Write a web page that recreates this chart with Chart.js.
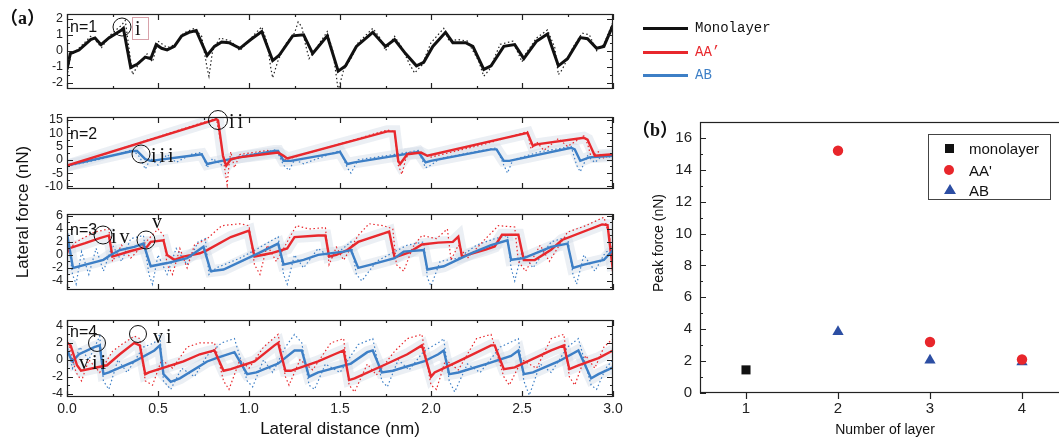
<!DOCTYPE html>
<html>
<head>
<meta charset="utf-8">
<script src="https://cdn.jsdelivr.net/npm/chart.js@4.4.1/dist/chart.umd.min.js"></script>
<style>
html, body { margin: 0; padding: 0; background: #fff; overflow: hidden; }
#wrap { position: relative; width: 1059px; height: 439px; overflow: hidden; font-family: "Liberation Sans", Arial, sans-serif; color: #111; }
canvas { position: absolute; }
.t { position: absolute; white-space: nowrap; line-height: 1; }
.rot { transform: translate(-50%, -50%) rotate(-90deg); }
.ctr { transform: translate(-50%, -50%); }
.roman { font-family: "Liberation Serif", serif; font-size: 20px; letter-spacing: 3px; }
.circ { position: absolute; border: 1.3px solid #111; border-radius: 50%; transform: translate(-50%, -50%); }
.lab { font-family: "Liberation Serif", "Noto Sans CJK SC", serif; font-weight: bold; font-size: 18px; }
.leg { font-family: "Liberation Mono", monospace; font-size: 14px; }
.nn { font-size: 16px; }
.lline { position: absolute; height: 2.5px; width: 45px; left: 643px; }
#legB { position: absolute; left: 928px; top: 134px; width: 121px; height: 64px; border: 1px solid #444; font-size: 15px; }
#legB .t { left: 40px; transform: translateY(-50%); }
</style>
</head>
<body>
<div id="wrap">
  <canvas id="p1" width="620" height="91" style="left:0;top:6px"></canvas>
  <canvas id="p2" width="620" height="88" style="left:0;top:109px"></canvas>
  <canvas id="p3" width="620" height="92" style="left:0;top:206px"></canvas>
  <canvas id="p4" width="640" height="127" style="left:0;top:312px"></canvas>
  <canvas id="pb" width="450" height="329" style="left:630px;top:110px"></canvas>

  <div class="t lab" style="left:0;top:9px">（a）</div>
  <div class="t lab" style="left:632px;top:121px">（b）</div>

  <div class="t rot" style="left:22px;top:212px;font-size:17px">Lateral force (nN)</div>
  <div class="t ctr" style="left:340px;top:428px;font-size:17px">Lateral distance (nm)</div>
  <div class="t rot" style="left:658px;top:243px;font-size:14px">Peak force (nN)</div>
  <div class="t ctr" style="left:885px;top:429px;font-size:14px">Number of layer</div>

  <!-- panel notes -->
  <div class="t nn" style="left:70px;top:19px">n=1</div>
  <div class="circ" style="left:122px;top:27px;width:17px;height:17px"></div>
  <div style="position:absolute;left:132px;top:17px;width:15px;height:21px;border:1px solid #d8a2aa"></div>
  <div class="t roman" style="left:135px;top:18px">i</div>

  <div class="t nn" style="left:70px;top:126px">n=2</div>
  <div class="circ" style="left:218px;top:120px;width:18px;height:18px"></div>
  <div class="t roman" style="left:229px;top:111px">ii</div>
  <div class="circ" style="left:141px;top:154px;width:17px;height:17px"></div>
  <div class="t roman" style="left:151px;top:145px">iii</div>

  <div class="t nn" style="left:70px;top:222px">n=3</div>
  <div class="circ" style="left:103px;top:235px;width:17px;height:17px"></div>
  <div class="t roman" style="left:111px;top:226px">iv</div>
  <div class="circ" style="left:146px;top:240px;width:17px;height:17px"></div>
  <div class="t roman" style="left:152px;top:211px">v</div>

  <div class="t nn" style="left:70px;top:324px">n=4</div>
  <div class="circ" style="left:97px;top:343px;width:16px;height:16px"></div>
  <div class="t roman" style="left:79px;top:352px">vii</div>
  <div class="circ" style="left:138px;top:334px;width:16px;height:16px"></div>
  <div class="t roman" style="left:153px;top:326px">vi</div>

  <!-- legend for (a) -->
  <div class="lline" style="top:27px;background:#111;height:3px"></div>
  <div class="lline" style="top:51px;background:#e8282d"></div>
  <div class="lline" style="top:74px;background:#3d7fc6"></div>
  <div class="t leg" style="left:695px;top:21px;color:#111">Monolayer</div>
  <div class="t leg" style="left:695px;top:45px;color:#e8282d">AA’</div>
  <div class="t leg" style="left:695px;top:68px;color:#3d7fc6">AB</div>

  <!-- legend for (b) -->
  <div id="legB">
    <div style="position:absolute;left:16px;top:9px;width:9px;height:9px;background:#111"></div>
    <div class="t" style="top:13px">monolayer</div>
    <div style="position:absolute;left:15px;top:30px;width:10px;height:10px;border-radius:50%;background:#e8262b"></div>
    <div class="t" style="top:35px">AA'</div>
    <div style="position:absolute;left:15px;top:49px;width:0;height:0;border-left:6px solid transparent;border-right:6px solid transparent;border-bottom:10px solid #2c4ea3"></div>
    <div class="t" style="top:55px">AB</div>
  </div>
</div>

<script>
'use strict'

// ---- panel (a) n=1, monolayer (nm, nN) ----
const mono1 = [[0,-1.17],[0.018,-0.18],[0.066,0.04],[0.13,0.7],[0.154,0.8],[0.187,0.38],[0.23,0.8],[0.30,1.3],[0.31,1.4],[0.35,-1.05],[0.385,-0.85],[0.43,-0.4],[0.46,-0.5],[0.49,0.38],[0.52,0.15],[0.55,0.05],[0.59,0.27],[0.63,0.93],[0.67,1.15],[0.71,1.26],[0.77,-0.3],[0.81,0.27],[0.85,0.55],[0.89,0.5],[0.95,0.15],[1.01,0.7],[1.07,1.2],[1.13,-0.62],[1.165,-0.3],[1.24,0.93],[1.30,1.0],[1.35,-0.18],[1.43,0.93],[1.49,-1.28],[1.53,-0.95],[1.59,0.27],[1.68,1.15],[1.75,0.27],[1.80,0.7],[1.86,-0.18],[1.92,-0.95],[1.96,-0.73],[2.01,0.27],[2.08,1.15],[2.12,0.5],[2.19,0.5],[2.23,0.27],[2.29,-1.17],[2.33,-0.95],[2.40,0.27],[2.46,0.38],[2.51,-0.5],[2.58,0.6],[2.64,1.04],[2.70,-0.95],[2.75,-0.5],[2.82,0.82],[2.86,0.75],[2.91,0.15],[2.95,0.27],[3.0,1.6]];
const mono1Raw = [[0,-1.6],[0.02,-0.3],[0.07,0.2],[0.13,0.9],[0.16,0.6],[0.19,0.2],[0.24,1.0],[0.3,1.6],[0.32,1.9],[0.34,0.2],[0.36,-1.5],[0.39,-0.9],[0.44,-0.2],[0.47,-0.7],[0.5,0.6],[0.55,0.2],[0.6,0.4],[0.64,1.1],[0.7,1.4],[0.74,0.9],[0.77,-1.1],[0.78,-1.6],[0.8,0.0],[0.84,0.8],[0.9,0.6],[0.95,0.0],[1.02,0.9],[1.07,1.5],[1.1,0.5],[1.12,-1.1],[1.13,-1.7],[1.16,-0.6],[1.2,0.4],[1.25,1.1],[1.27,1.8],[1.29,1.5],[1.31,0.4],[1.33,-0.5],[1.36,0.0],[1.43,1.2],[1.46,0.0],[1.48,-1.6],[1.49,-2.5],[1.52,-1.2],[1.56,-0.5],[1.6,0.5],[1.68,1.4],[1.72,0.8],[1.75,0.0],[1.8,0.9],[1.84,0.2],[1.88,-0.8],[1.91,-1.4],[1.95,-0.9],[2.0,0.5],[2.07,1.4],[2.1,0.6],[2.15,0.7],[2.2,0.6],[2.26,-0.6],[2.29,-1.6],[2.32,-1.2],[2.38,0.4],[2.45,0.6],[2.5,-0.7],[2.52,-0.2],[2.58,0.8],[2.64,1.3],[2.68,0.2],[2.70,-1.5],[2.72,-1.2],[2.78,0.2],[2.83,1.1],[2.87,1.0],[2.91,0.0],[2.95,0.4],[3.0,1.8]];

// ---- n=2 ----
const aa2 = [[0,-2.2],[0.81,15.0],[0.82,15.3],[0.83,14.8],[0.857,1.5],[0.875,-2.2],[0.90,0.2],[0.945,0.9],[1.16,2.7],[1.19,1.5],[1.21,0.5],[1.76,10.7],[1.80,10.7],[1.82,-0.4],[1.83,-1.6],[1.87,2.1],[1.945,2.7],[1.98,1.5],[2.53,10.1],[2.56,5.2],[2.58,5.8],[2.84,8.3],[2.86,7.6],[2.90,1.5],[3.0,2.1]];
const aa2Raw = [[0,-2.5],[0.4,6.5],[0.82,15.6],[0.85,5],[0.87,-5],[0.88,-9.5],[0.89,-2],[0.9,3],[0.92,-3],[0.95,2],[1.1,3.5],[1.16,2.4],[1.2,0],[1.5,6],[1.76,11.2],[1.8,10.5],[1.82,-2],[1.84,-5.5],[1.86,0],[1.88,3],[1.95,2.2],[2.0,1],[2.3,6],[2.53,10.6],[2.55,4],[2.58,6.8],[2.62,3.5],[2.7,8],[2.75,5],[2.84,9],[2.86,6],[2.88,1],[2.92,3],[2.95,0.5],[3.0,2.5]];
const ab2 = [[0,-2.2],[0.36,3.3],[0.385,3.3],[0.43,0.25],[0.46,-0.4],[0.68,1.5],[0.74,2.1],[0.77,-1.6],[0.81,-1.0],[0.945,0.9],[1.14,3.3],[1.16,3.3],[1.19,-0.4],[1.23,-0.4],[1.47,2.5],[1.50,3.0],[1.54,-1.6],[1.58,-1.0],[1.91,2.7],[1.93,3.0],[1.97,-1.0],[2.0,-0.4],[2.33,3.9],[2.36,3.9],[2.40,-0.4],[2.43,-0.4],[2.77,4.5],[2.79,3.9],[2.82,-0.4],[2.87,0.9],[3.0,1.5]];
const ab2Raw = [[0,-2.5],[0.2,0.5],[0.36,3.8],[0.4,1],[0.43,-3.5],[0.46,0.5],[0.5,-2],[0.55,2],[0.6,-1],[0.68,2],[0.74,2.8],[0.77,-3],[0.8,0.5],[0.85,-2],[0.95,1.5],[1.1,3],[1.15,3.8],[1.19,-2],[1.22,-4],[1.25,0],[1.3,-1.5],[1.4,1],[1.5,3.5],[1.54,-3],[1.56,-5],[1.6,0],[1.7,1],[1.8,2],[1.93,3.5],[1.97,-3],[2.0,-2],[2.05,0.5],[2.2,2.5],[2.36,4.5],[2.40,-2],[2.42,-5],[2.45,0],[2.6,3],[2.77,5],[2.8,-2],[2.82,-4.5],[2.86,1.5],[2.9,-1],[2.95,2],[3.0,0.5]];

// ---- n=3 ----
const aa3 = [[0,0.25],[0.01,1.0],[0.10,1.8],[0.18,2.6],[0.23,3.0],[0.25,-0.25],[0.35,0.6],[0.44,1.25],[0.46,2.0],[0.53,2.25],[0.55,0],[0.59,-0.75],[0.64,-0.25],[0.73,0.25],[0.77,0.75],[0.90,2.75],[1.0,3.75],[1.03,-0.25],[1.12,0.25],[1.21,1.0],[1.25,2.75],[1.38,3.0],[1.42,3.0],[1.44,-0.25],[1.48,0],[1.54,0.75],[1.60,2.0],[1.74,3.3],[1.77,3.6],[1.80,-0.4],[1.88,0.4],[1.95,1.6],[2.04,1.9],[2.12,2.0],[2.15,2.8],[2.17,-0.25],[2.3,0.8],[2.35,1.3],[2.39,3.1],[2.48,3.1],[2.51,-0.8],[2.57,-0.8],[2.66,0.8],[2.72,2.3],[2.94,4.7],[2.97,4.6],[3.0,-2.5]];
const aa3Raw = [[0,0.5],[0.05,2],[0.15,3.5],[0.23,4],[0.25,-1],[0.3,1.5],[0.35,-0.5],[0.44,2.2],[0.5,4],[0.53,3],[0.55,-1.5],[0.58,-3],[0.62,1],[0.66,-2],[0.7,1.5],[0.77,2.5],[0.85,4.5],[0.95,4.8],[1.0,4.5],[1.03,-1.5],[1.06,-3],[1.1,1.5],[1.15,-1],[1.21,2],[1.26,4.5],[1.33,4],[1.42,4.2],[1.44,-1.5],[1.48,1.2],[1.52,-0.8],[1.6,3],[1.66,4.8],[1.74,4.5],[1.79,4],[1.81,-1.5],[1.85,-2.5],[1.9,1.2],[1.95,3],[2.03,2.5],[2.09,4],[2.11,-0.8],[2.15,1.5],[2.2,-0.5],[2.3,2.5],[2.37,4.5],[2.46,4.3],[2.48,-1],[2.52,-2.5],[2.6,1.5],[2.65,-1],[2.75,3.5],[2.85,4.5],[2.95,5.8],[2.98,3],[3.0,-1.5]];
const ab3 = [[0,3.25],[0.033,-2.0],[0.066,-1.75],[0.20,-0.75],[0.24,0],[0.29,0.75],[0.37,1.25],[0.42,1.75],[0.46,-1.75],[0.55,-1.25],[0.66,-0.5],[0.75,1.25],[0.79,-2.5],[0.86,-2.25],[1.05,0.25],[1.16,1.75],[1.19,-1.5],[1.30,-0.75],[1.38,0],[1.52,0.5],[1.56,0.75],[1.60,-2.0],[1.67,-1.5],[1.80,-0.5],[1.85,0.5],[1.96,0.75],[1.98,-2.25],[2.07,-1.75],[2.22,0.25],[2.33,1.5],[2.42,2.25],[2.44,-0.75],[2.51,-0.5],[2.66,1.25],[2.75,1.75],[2.78,-2.0],[2.84,-1.5],[2.95,-0.75],[3.0,0.75]];
const ab3Raw = [[0,4],[0.03,-3],[0.05,-4.5],[0.08,0.5],[0.12,-3],[0.16,1],[0.2,-2.5],[0.25,1.5],[0.3,-1],[0.35,2.5],[0.42,3],[0.45,-3],[0.47,-4.5],[0.5,0],[0.55,-3],[0.6,1],[0.66,-1.5],[0.72,2],[0.76,2.5],[0.78,-3],[0.82,-2],[0.95,-0.5],[1.05,1],[1.16,2.8],[1.19,-3],[1.21,-4.5],[1.25,0],[1.3,-2],[1.38,1],[1.45,-0.5],[1.56,2],[1.59,-3],[1.62,-4],[1.7,-1],[1.8,0.5],[1.87,1.5],[1.96,2],[1.98,-3.5],[2.0,-4.8],[2.05,-1],[2.15,-0.5],[2.25,1.5],[2.35,2.5],[2.42,3],[2.44,-2],[2.46,-4],[2.5,0.5],[2.56,-2],[2.66,2],[2.75,2.8],[2.78,-3],[2.8,-4.5],[2.84,0],[2.9,-2.5],[2.95,0],[3.0,1.5]];

// ---- n=4 ----
const aa4 = [[0,2.0],[0.02,1.7],[0.055,-0.65],[0.077,-1.3],[0.22,-0.65],[0.29,0.65],[0.37,2.0],[0.40,1.7],[0.43,-1.7],[0.45,-1.5],[0.64,-0.2],[0.73,0.65],[0.81,1.1],[0.86,-1.3],[0.90,-1.1],[1.03,-0.2],[1.14,1.7],[1.16,2.0],[1.20,-1.3],[1.23,-1.3],[1.38,-0.2],[1.47,0.65],[1.52,1.1],[1.55,-2.4],[1.58,-2.2],[1.74,-0.65],[1.87,0.65],[1.95,1.7],[2.0,-2.0],[2.02,-1.5],[2.15,-0.2],[2.33,1.7],[2.35,1.7],[2.40,-1.1],[2.46,-0.9],[2.66,1.1],[2.73,1.7],[2.76,-1.1],[2.81,-0.65],[2.92,0.2],[3.0,1.1]];
const aa4Raw = [[0,2.5],[0.05,-1.5],[0.08,-2.5],[0.12,0],[0.18,-1.5],[0.25,1],[0.3,1.8],[0.37,2.8],[0.4,2.5],[0.43,-2.5],[0.47,-3],[0.52,0],[0.58,-1],[0.66,1.5],[0.73,2],[0.81,2],[0.86,-2.5],[0.89,-3.5],[0.95,0],[1.0,-1],[1.08,1.5],[1.16,3],[1.2,-2],[1.22,-3],[1.28,0],[1.35,-1.2],[1.45,2],[1.52,2.5],[1.55,-3],[1.58,-3.8],[1.65,-0.5],[1.7,-1.8],[1.8,1],[1.87,2.5],[1.95,3],[2.0,-3],[2.03,-3.5],[2.08,0],[2.15,-1.2],[2.25,2.5],[2.33,3],[2.4,-2],[2.43,-3],[2.5,0],[2.58,-1],[2.66,2.5],[2.73,3],[2.76,-2],[2.79,-3],[2.85,0.5],[2.9,-1],[2.95,1.5],[3.0,2.5]];
const ab4 = [[0,1.1],[0.03,-0.2],[0.066,0.65],[0.15,1.5],[0.18,1.7],[0.20,-1.7],[0.23,-1.5],[0.37,-0.2],[0.48,1.1],[0.51,1.7],[0.53,-1.7],[0.57,-2.6],[0.62,-2.2],[0.77,-0.2],[0.82,0.2],[0.92,0.9],[0.99,-1.7],[1.04,-1.5],[1.16,-0.45],[1.25,1.1],[1.29,1.1],[1.33,-2.0],[1.38,-1.5],[1.56,-0.45],[1.65,0.9],[1.68,1.1],[1.73,-1.5],[1.79,-1.3],[1.96,-0.2],[2.04,0.65],[2.07,1.1],[2.10,-1.7],[2.15,-1.5],[2.31,-0.45],[2.44,0.45],[2.48,1.1],[2.51,-1.7],[2.56,-1.5],[2.70,-0.2],[2.81,1.1],[2.88,-2.2],[2.92,-1.7],[3.0,-0.9]];
const ab4Raw = [[0,1.8],[0.03,-1],[0.07,1.5],[0.12,0],[0.18,2.8],[0.2,-2.5],[0.23,-3.5],[0.28,0],[0.33,-1.5],[0.42,1.5],[0.48,2],[0.51,3],[0.53,-2.5],[0.57,-3.5],[0.63,-1],[0.7,-2],[0.77,0.5],[0.85,2],[0.92,2.5],[0.99,-2.5],[1.02,-3.2],[1.08,0],[1.13,-1.5],[1.2,1.5],[1.25,3],[1.29,2],[1.33,-3],[1.36,-3.5],[1.42,-0.5],[1.5,-1.5],[1.6,1.8],[1.68,2.5],[1.73,-2.5],[1.76,-3.2],[1.82,0],[1.88,-1.2],[1.96,1],[2.04,2],[2.07,2.5],[2.1,-2.5],[2.13,-3.8],[2.2,-0.5],[2.27,-1.5],[2.38,1.5],[2.48,2.5],[2.51,-2.5],[2.54,-4.2],[2.6,-0.5],[2.66,-1.5],[2.75,1.5],[2.81,2.5],[2.88,-3],[2.91,-3.5],[2.96,-1],[3.0,0]];

// ---- panel (b) ----
const layers = [1, 2, 3, 4];
const peakMono = [1.45, null, null, null];
const peakAA = [null, 15.2, 3.2, 2.1];
const peakAB = [null, 3.85, 2.05, 1.95];

const RED = '#e8282d', BLUE = '#3d7fc6', BLACK = '#111';
const FONT = '"Liberation Sans", Arial, sans-serif';

// frame + inward tick marks, placed with the chart's own scales
const frameTicks = {
	id: 'frameTicks',
	afterDatasetsDraw(chart, args, o) {
		let ctx = chart.ctx, a = chart.chartArea;
		let x = chart.scales.x, y = chart.scales.y;
		ctx.save();
		ctx.strokeStyle = '#222';
		ctx.lineWidth = 1.2;
		ctx.strokeRect(a.left + 0.5, a.top + 0.5, a.right - a.left - 1, a.bottom - a.top - 1);
		ctx.beginPath();
		let each = (scale, step, major, fn) => {
			let start = Math.ceil(scale.min / step - 1e-9);
			for (let k = start; k * step <= scale.max + 1e-9; k++) {
				let v = k * step;
				let isMajor = Math.abs(v / major - Math.round(v / major)) < 1e-6;
				fn(Math.round(scale.getPixelForValue(v)) + 0.5, isMajor ? 6 : 3);
			}
		};
		if (o.yStep) {
			each(y, o.yStep, o.yMajor, (py, len) => {
				ctx.moveTo(a.left, py); ctx.lineTo(a.left + len, py);
				if (o.mirror) { ctx.moveTo(a.right, py); ctx.lineTo(a.right - len, py); }
			});
		}
		if (o.xStep) {
			each(x, o.xStep, o.xMajor, (px, len) => {
				if (o.xOut) {
					ctx.moveTo(px, a.bottom); ctx.lineTo(px, a.bottom + len);
				} else {
					ctx.moveTo(px, a.bottom); ctx.lineTo(px, a.bottom - len);
					if (o.mirror) { ctx.moveTo(px, a.top); ctx.lineTo(px, a.top + len); }
				}
			});
		}
		ctx.stroke();
		ctx.restore();
	}
};

// keep the plot box where layout.padding puts it, whatever the label sizes
let noPad = (s) => { s.paddingTop = 0; s.paddingBottom = 0; s.paddingLeft = 0; s.paddingRight = 0; };

let solid = (data, color, order, w) => ({
	data: data, borderColor: color, borderWidth: w || 2.4, pointRadius: 0, tension: 0, order: order
});
let dotted = (data, color, order) => ({
	data: data, borderColor: color, borderWidth: 1.2, borderDash: [1.5, 2.5], pointRadius: 0, tension: 0, order: order
});
let haze = (data, order) => ({
	data: data, borderColor: 'rgba(205,215,228,0.4)', borderWidth: 12, pointRadius: 0, tension: 0, order: order
});

let makePanel = (id, datasets, yMin, yMax, yStep, showX) => {
	return new Chart(document.getElementById(id), {
		type: 'line',
		data: { datasets: datasets },
		options: {
			responsive: false,
			animation: false,
			events: [],
			layout: { padding: { top: 8, bottom: showX ? 0 : 8, left: 0, right: showX ? 27 : 7 } },
			plugins: {
				legend: { display: false },
				tooltip: { enabled: false },
				frameTicks: { yStep: yStep / 2, yMajor: yStep, xStep: 0.25, xMajor: 0.5, mirror: true }
			},
			scales: {
				x: {
					type: 'linear', min: 0, max: 3,
					display: showX,
					grid: { display: false, drawTicks: false },
					border: { display: false },
					ticks: {
						stepSize: 0.25, autoSkip: false, maxRotation: 0, padding: 4,
						color: '#222', font: { family: FONT, size: 14 },
						callback: (v) => Math.abs(v * 2 - Math.round(v * 2)) < 1e-6 ? v.toFixed(1) : ''
					},
					afterFit: (s) => { s.height = showX ? 42 : 0; noPad(s); }
				},
				y: {
					min: yMin, max: yMax,
					grid: { display: false, drawTicks: false },
					border: { display: false },
					ticks: {
						stepSize: yStep, includeBounds: false, autoSkip: false, padding: 4,
						color: '#222', font: { family: FONT, size: 12.5 }
					},
					afterFit: (s) => { s.width = 67; noPad(s); }
				}
			}
		},
		plugins: [frameTicks]
	});
};

makePanel('p1', [solid(mono1, BLACK, 1, 3), dotted(mono1Raw, '#222', 2)], -2.4, 2.3, 1, false);
makePanel('p2', [solid(aa2, RED, 1), solid(ab2, BLUE, 2), dotted(aa2Raw, RED, 3), dotted(ab2Raw, BLUE, 4), haze(aa2, 5), haze(ab2, 6)], -11, 16.1, 5, false);
makePanel('p3', [solid(ab3, BLUE, 1), solid(aa3, RED, 2), dotted(aa3Raw, RED, 3), dotted(ab3Raw, BLUE, 4), haze(aa3, 5), haze(ab3, 6)], -5.4, 6.3, 2, false);
makePanel('p4', [solid(aa4, RED, 1), solid(ab4, BLUE, 2), dotted(aa4Raw, RED, 3), dotted(ab4Raw, BLUE, 4), haze(aa4, 5), haze(ab4, 6)], -4.4, 4.7, 2, true);

let pairs = (ys) => layers.map((l, i) => ({ x: l, y: ys[i] })).filter((p) => p.y !== null);

new Chart(document.getElementById('pb'), {
	type: 'scatter',
	data: {
		datasets: [
			{ label: 'monolayer', data: pairs(peakMono), pointStyle: 'rect', pointRadius: 6.4, backgroundColor: BLACK, borderColor: BLACK, borderWidth: 0 },
			{ label: "AA'", data: pairs(peakAA), pointStyle: 'circle', pointRadius: 5.2, backgroundColor: '#e8262b', borderColor: '#e8262b', borderWidth: 0 },
			{ label: 'AB', data: pairs(peakAB), pointStyle: 'triangle', pointRadius: 6.5, backgroundColor: '#2c4ea3', borderColor: '#2c4ea3', borderWidth: 0 }
		]
	},
	options: {
		responsive: false,
		animation: false,
		events: [],
		layout: { padding: { top: 12, right: 12, left: 0, bottom: 0 } },
		plugins: {
			legend: { display: false },
			tooltip: { enabled: false },
			frameTicks: { yStep: 1, yMajor: 2, xStep: 1, xMajor: 1, xOut: true, mirror: false }
		},
		scales: {
			x: {
				type: 'linear', min: 0.5, max: 4.5,
				grid: { display: false, drawTicks: false },
				border: { display: false },
				ticks: { padding: 7, color: '#222', font: { family: FONT, size: 15 } },
				afterBuildTicks: (s) => { s.ticks = layers.map((v) => ({ value: v })); },
				afterFit: (s) => { s.height = 46; noPad(s); }
			},
			y: {
				min: 0, max: 17,
				grid: { display: false, drawTicks: false },
				border: { display: false },
				ticks: { stepSize: 2, includeBounds: false, autoSkip: false, padding: 8, color: '#222', font: { family: FONT, size: 15 } },
				afterFit: (s) => { s.width = 70; noPad(s); }
			}
		}
	},
	plugins: [frameTicks]
});
</script>
</body>
</html>
